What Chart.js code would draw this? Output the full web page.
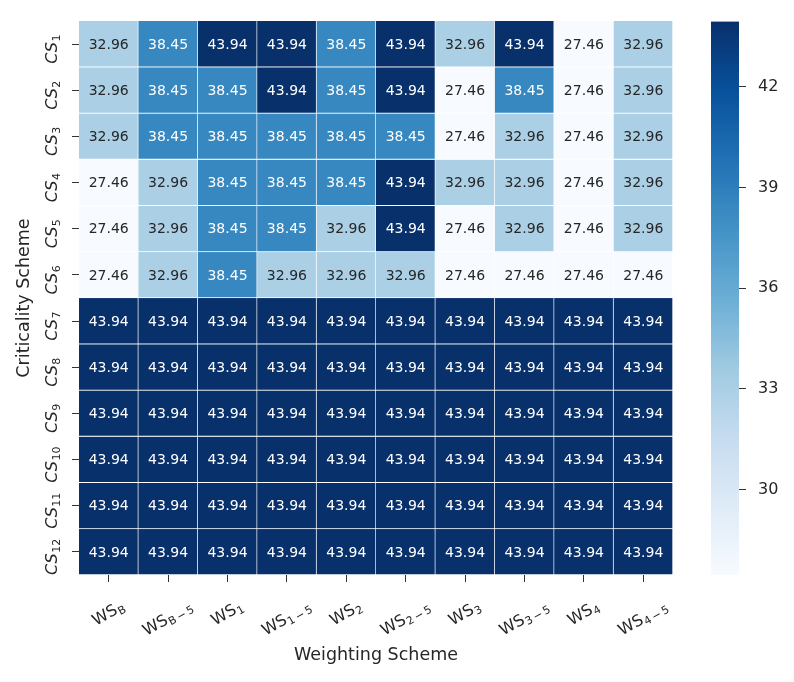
<!DOCTYPE html>
<html>
<head>
<meta charset="utf-8">
<script src="https://cdn.jsdelivr.net/npm/chart.js@4.4.0/dist/chart.umd.min.js"></script>
<style>
  html, body { margin: 0; padding: 0; background: #fff; }
  #wrap { position: relative; width: 794px; height: 682px; }
  #wrap canvas { position: absolute; left: 0; top: 0; }
</style>
</head>
<body>
<div id="wrap">
  <canvas id="heat" width="794" height="682"></canvas>
  <canvas id="cbar" width="794" height="682"></canvas>
</div>
<script>
// column subscripts (WS_x) and row subscripts (CS_x)
const wsSubs = ["B", "B−5", "1", "1−5", "2", "2−5", "3", "3−5", "4", "4−5"];
const csSubs = ["1", "2", "3", "4", "5", "6", "7", "8", "9", "10", "11", "12"];

// one array per criticality scheme, one value per weighting scheme
const cs1  = [32.96, 38.45, 43.94, 43.94, 38.45, 43.94, 32.96, 43.94, 27.46, 32.96];
const cs2  = [32.96, 38.45, 38.45, 43.94, 38.45, 43.94, 27.46, 38.45, 27.46, 32.96];
const cs3  = [32.96, 38.45, 38.45, 38.45, 38.45, 38.45, 27.46, 32.96, 27.46, 32.96];
const cs4  = [27.46, 32.96, 38.45, 38.45, 38.45, 43.94, 32.96, 32.96, 27.46, 32.96];
const cs5  = [27.46, 32.96, 38.45, 38.45, 32.96, 43.94, 27.46, 32.96, 27.46, 32.96];
const cs6  = [27.46, 32.96, 38.45, 32.96, 32.96, 32.96, 27.46, 27.46, 27.46, 27.46];
const cs7  = [43.94, 43.94, 43.94, 43.94, 43.94, 43.94, 43.94, 43.94, 43.94, 43.94];
const cs8  = [43.94, 43.94, 43.94, 43.94, 43.94, 43.94, 43.94, 43.94, 43.94, 43.94];
const cs9  = [43.94, 43.94, 43.94, 43.94, 43.94, 43.94, 43.94, 43.94, 43.94, 43.94];
const cs10 = [43.94, 43.94, 43.94, 43.94, 43.94, 43.94, 43.94, 43.94, 43.94, 43.94];
const cs11 = [43.94, 43.94, 43.94, 43.94, 43.94, 43.94, 43.94, 43.94, 43.94, 43.94];
const cs12 = [43.94, 43.94, 43.94, 43.94, 43.94, 43.94, 43.94, 43.94, 43.94, 43.94];
const rows = [cs1, cs2, cs3, cs4, cs5, cs6, cs7, cs8, cs9, cs10, cs11, cs12];

const cbTicks = [30, 33, 36, 39, 42];
const vMin = 27.46, vMax = 43.94;

const FONT = "'DejaVu Sans', sans-serif";
const INK = "#262626";

// matplotlib "Blues"
const bluesStops = [[247,251,255],[222,235,247],[198,219,239],[158,202,225],[107,174,214],[66,146,198],[33,113,181],[8,81,156],[8,48,107]];
function bluesRGB(v) {
  let t = (v - vMin) / (vMax - vMin);
  t = Math.max(0, Math.min(1, t));
  const p = t * 8, i = Math.min(7, Math.floor(p)), f = p - i;
  const a = bluesStops[i], b = bluesStops[i + 1];
  return [0, 1, 2].map(k => Math.round(a[k] + (b[k] - a[k]) * f));
}
function blues(v) { const c = bluesRGB(v); return `rgb(${c[0]},${c[1]},${c[2]})`; }
function textColor(v) {
  const lin = bluesRGB(v).map(c => { c /= 255; return c <= 0.03928 ? c / 12.92 : Math.pow((c + 0.055) / 1.055, 2.4); });
  const lum = 0.2126 * lin[0] + 0.7152 * lin[1] + 0.0722 * lin[2];
  return lum > 0.408 ? INK : "#ffffff";
}

// draws main text + subscript, baseline at y=0, starting at x
function drawSub(ctx, x, main, sub, mainFont, subFont, drop, measureOnly) {
  ctx.font = mainFont;
  const wm = ctx.measureText(main).width;
  if (!measureOnly) ctx.fillText(main, x, 0);
  let cx = x + wm + 0.5;
  ctx.font = subFont;
  const parts = sub.split("−");
  parts.forEach((p, i) => {
    if (i > 0) {
      cx += 2;
      if (!measureOnly) ctx.fillText("−", cx, drop);
      cx += ctx.measureText("−").width + 2;
    }
    if (!measureOnly) ctx.fillText(p, cx, drop);
    cx += ctx.measureText(p).width;
  });
  return cx - x;
}

const annotations = {
  id: "annotations",
  afterDatasetsDraw(chart) {
    const ctx = chart.ctx;
    ctx.save();
    ctx.font = "14px " + FONT;
    ctx.textAlign = "center";
    ctx.textBaseline = "middle";
    chart.data.datasets.forEach((ds, i) => {
      chart.getDatasetMeta(i).data.forEach((bar, j) => {
        const p = bar.getProps(["x", "y", "base"], true);
        const v = ds.values[j];
        ctx.fillStyle = textColor(v);
        ctx.fillText(v.toFixed(2), p.x, (p.y + p.base) / 2 + 1);
      });
    });
    ctx.restore();
  }
};

const axisLabels = {
  id: "axisLabels",
  afterDraw(chart) {
    const ctx = chart.ctx;
    const xs = chart.scales.x, ys = chart.scales.y, area = chart.chartArea;
    ctx.save();
    ctx.fillStyle = INK;
    ctx.textAlign = "left";
    ctx.textBaseline = "alphabetic";

    // x tick labels, rotated 30 degrees, centred under the tick
    const th = Math.PI / 6;
    const mF = "16px " + FONT, sF = "11px " + FONT;
    wsSubs.forEach((s, i) => {
      const w = drawSub(ctx, 0, "WS", s, mF, sF, 3, true);
      const h = 15;
      const bh = w * Math.sin(th) + h * Math.cos(th);
      const cx = xs.getPixelForTick(i), cy = 599 + bh / 2;
      ctx.save();
      ctx.translate(cx, cy);
      ctx.rotate(-th);
      ctx.translate(0, 4);
      drawSub(ctx, -w / 2, "WS", s, mF, sF, 3, false);
      ctx.restore();
    });

    // y tick labels, vertical
    const cmF = "italic 16px " + FONT, csF = "11px " + FONT;
    csSubs.forEach((s, i) => {
      const w = drawSub(ctx, 0, "CS", s, cmF, csF, 3, true);
      const ty = ys.getPixelForValue(i + 0.5);
      ctx.save();
      ctx.translate(57, ty + 5);
      ctx.rotate(-Math.PI / 2);
      drawSub(ctx, -w / 2, "CS", s, cmF, csF, 3, false);
      ctx.restore();
    });

    // axis titles
    ctx.font = "17.5px " + FONT;
    ctx.textAlign = "center";
    ctx.textBaseline = "middle";
    ctx.fillText("Weighting Scheme", (area.left + area.right) / 2, 655);
    ctx.save();
    ctx.translate(24, (area.top + area.bottom) / 2);
    ctx.rotate(-Math.PI / 2);
    ctx.fillText("Criticality Scheme", 0, 0);
    ctx.restore();
    ctx.restore();
  }
};

const datasets = rows.map((vals, r) => ({
  data: vals.map(() => [r, r + 1]),
  values: vals,
  backgroundColor: vals.map(blues),
  borderColor: "#ffffff",
  borderWidth: { top: 0, left: 0, right: 1, bottom: 1 },
  borderSkipped: false,
  grouped: false,
  barPercentage: 1,
  categoryPercentage: 1
}));

new Chart(document.getElementById("heat"), {
  type: "bar",
  data: { labels: wsSubs, datasets: datasets },
  options: {
    responsive: false,
    animation: false,
    layout: { padding: { top: 21, right: 121, left: 0, bottom: 0 } },
    plugins: { legend: { display: false }, tooltip: { enabled: false } },
    scales: {
      x: {
        type: "category",
        grid: { drawOnChartArea: false, drawTicks: true, tickLength: 7, offset: false, color: "#333" },
        border: { display: false },
        ticks: { autoSkip: false, maxRotation: 0, callback: () => "" },
        afterFit(s) { s.height = 107; }
      },
      y: {
        type: "linear",
        min: 0,
        max: 12,
        reverse: true,
        afterBuildTicks(s) { s.ticks = csSubs.map((_, i) => ({ value: i + 0.5 })); },
        grid: { drawOnChartArea: false, drawTicks: true, tickLength: 7, color: "#333" },
        border: { display: false },
        ticks: { callback: () => "" },
        afterFit(s) { s.width = 79; }
      }
    }
  },
  plugins: [annotations, axisLabels]
});

// colour bar
const gradientBar = {
  id: "gradientBar",
  beforeDraw(chart) {
    const { ctx, chartArea: a } = chart;
    const g = ctx.createLinearGradient(0, a.bottom, 0, a.top);
    bluesStops.forEach((c, i) => g.addColorStop(i / 8, `rgb(${c[0]},${c[1]},${c[2]})`));
    ctx.save();
    ctx.fillStyle = g;
    ctx.fillRect(a.left, a.top, a.right - a.left, a.bottom - a.top);
    ctx.restore();
  }
};

new Chart(document.getElementById("cbar"), {
  type: "scatter",
  data: { datasets: [] },
  options: {
    responsive: false,
    animation: false,
    layout: { padding: { left: 711, top: 21, right: 0, bottom: 107 } },
    plugins: { legend: { display: false }, tooltip: { enabled: false } },
    scales: {
      x: { display: false },
      y: {
        position: "right",
        min: vMin,
        max: vMax,
        afterBuildTicks(s) { s.ticks = cbTicks.map(v => ({ value: v })); },
        ticks: { font: { family: FONT, size: 16 }, color: INK, padding: 12 },
        grid: { drawOnChartArea: false, drawTicks: true, tickLength: 7, color: "#333" },
        border: { display: false },
        afterFit(s) { s.width = 55; }
      }
    }
  },
  plugins: [gradientBar]
});
</script>
</body>
</html>
